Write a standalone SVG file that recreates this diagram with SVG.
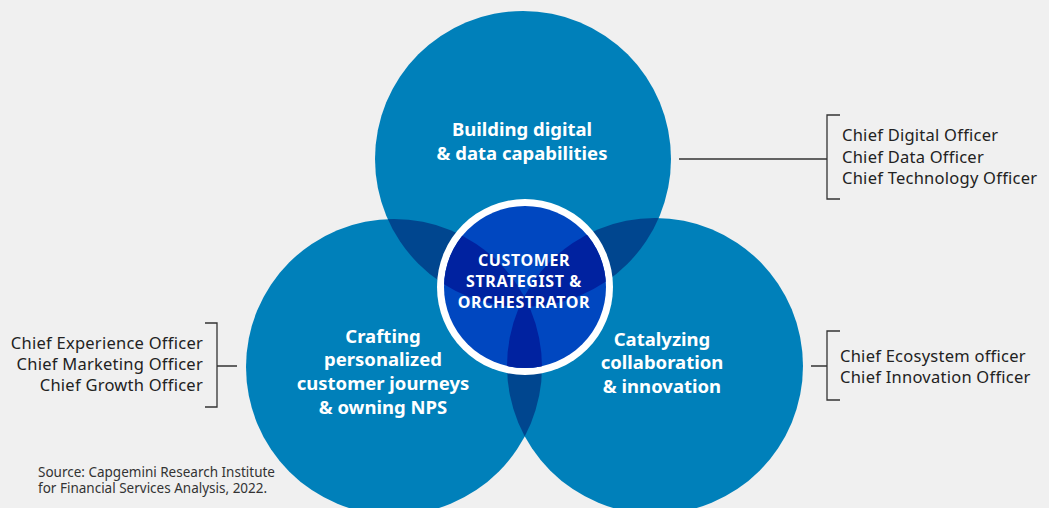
<svg xmlns="http://www.w3.org/2000/svg" width="1049" height="508" viewBox="0 0 1049 508">
<style>
.bg{fill:#f0f0f0}
.circ{fill:#0080ba}
.lens{fill:#00468f}
.core{fill:#0047c0}
.corelens{fill:#0022a0}
.ring{fill:#ffffff}
.lbl{font-family:"Noto Sans","Open Sans",sans-serif;font-weight:bold;fill:#ffffff;text-anchor:middle}
.big{font-size:18.5px}
.mid{font-size:16px;letter-spacing:0.6px}
.role{font-family:"Noto Sans","Open Sans",sans-serif;font-size:16.5px;letter-spacing:0.25px;fill:#222222}
.src{font-family:"Noto Sans","Open Sans",sans-serif;font-size:13.5px;fill:#333333}
.br{fill:none;stroke:#333333;stroke-width:1.3}
</style>
<defs>
<clipPath id="cTop"><circle cx="523" cy="159" r="148"/></clipPath>
<clipPath id="cLeft"><circle cx="394" cy="367" r="148"/></clipPath>
<clipPath id="cRight"><circle cx="655" cy="366" r="148"/></clipPath>
<clipPath id="cCore"><circle cx="525" cy="287" r="81"/></clipPath>
</defs>
<rect class="bg" x="0" y="0" width="1049" height="508"/>
<g id="circle-top"><circle class="circ" cx="523" cy="159" r="148"/></g>
<g id="circle-left"><circle class="circ" cx="394" cy="367" r="148"/></g>
<g id="circle-right"><circle class="circ" cx="655" cy="366" r="148"/></g>
<g id="overlaps">
<circle class="lens" cx="394" cy="367" r="148" clip-path="url(#cTop)"/>
<circle class="lens" cx="655" cy="366" r="148" clip-path="url(#cTop)"/>
<circle class="lens" cx="655" cy="366" r="148" clip-path="url(#cLeft)"/>
</g>
<g id="center">
<circle class="ring" cx="525" cy="287" r="88"/>
<circle class="core" cx="525" cy="287" r="81"/>
<g clip-path="url(#cCore)">
<circle class="corelens" cx="394" cy="367" r="148" clip-path="url(#cTop)"/>
<circle class="corelens" cx="655" cy="366" r="148" clip-path="url(#cTop)"/>
<circle class="corelens" cx="655" cy="366" r="148" clip-path="url(#cLeft)"/>
</g>
<text class="lbl mid" x="524" y="266">CUSTOMER</text>
<text class="lbl mid" x="524" y="287">STRATEGIST &amp;</text>
<text class="lbl mid" x="524" y="308">ORCHESTRATOR</text>
</g>
<g id="label-top">
<text class="lbl big" x="522" y="136">Building digital</text>
<text class="lbl big" x="522" y="160">&amp; data capabilities</text>
</g>
<g id="label-left">
<text class="lbl big" x="383" y="343">Crafting</text>
<text class="lbl big" x="383" y="366">personalized</text>
<text class="lbl big" x="383" y="390">customer journeys</text>
<text class="lbl big" x="383" y="414">&amp; owning NPS</text>
</g>
<g id="label-right">
<text class="lbl big" x="662" y="346">Catalyzing</text>
<text class="lbl big" x="662" y="369">collaboration</text>
<text class="lbl big" x="662" y="393">&amp; innovation</text>
</g>
<g id="connectors">
<path class="br" d="M679 159 H827 M840 115 H827 V199 H840"/>
<path class="br" d="M237 366 H217 M205 323 H217 V407 H205"/>
<path class="br" d="M811 366 H827 M840 331 H827 V400 H840"/>
</g>
<g id="roles-top">
<text class="role" x="842" y="141">Chief Digital Officer</text>
<text class="role" x="842" y="163">Chief Data Officer</text>
<text class="role" x="842" y="184">Chief Technology Officer</text>
</g>
<g id="roles-left">
<text class="role" x="203" y="349" text-anchor="end">Chief Experience Officer</text>
<text class="role" x="203" y="370" text-anchor="end">Chief Marketing Officer</text>
<text class="role" x="203" y="391" text-anchor="end">Chief Growth Officer</text>
</g>
<g id="roles-right">
<text class="role" x="840" y="362">Chief Ecosystem officer</text>
<text class="role" x="840" y="383">Chief Innovation Officer</text>
</g>
<g id="source">
<text class="src" x="38" y="477">Source: Capgemini Research Institute</text>
<text class="src" x="38" y="493">for Financial Services Analysis, 2022.</text>
</g>
</svg>
